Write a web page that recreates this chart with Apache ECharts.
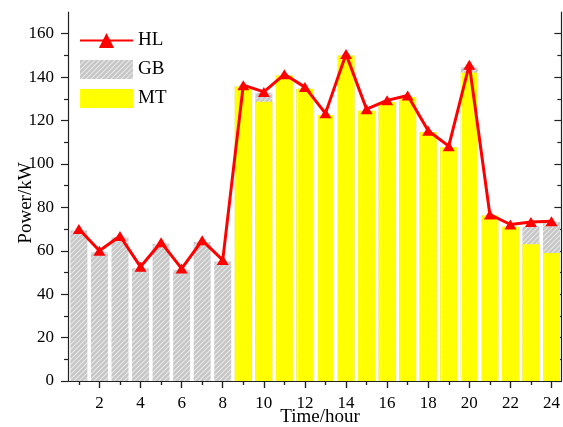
<!DOCTYPE html>
<html><head><meta charset="utf-8">
<script src="https://cdn.jsdelivr.net/npm/echarts@6/dist/echarts.min.js"></script>
<style>html,body{margin:0;padding:0;background:#fff}#c{width:563px;height:427px}</style>
</head><body><div id="c"></div>
<script>
const hours = [1,2,3,4,5,6,7,8,9,10,11,12,13,14,15,16,17,18,19,20,21,22,23,24];
const HL = [70,60,66.8,52.6,63.9,51.8,64.8,55.7,136.3,133.2,141.3,135.4,123.3,150.6,125.2,129.3,131.5,115.3,108.2,145.7,76.7,72.1,73.2,73.6];
const MT = [0,0,0,0,0,0,0,0,135.7,128.6,140.8,134.6,122.5,150,124.5,128.5,130.8,114.6,107.7,142,76.2,71.1,63,59];
const GB = [69.3,59.3,66.2,52,63.2,51.2,64,55,0,4.2,0,0,0,0,0,0,0,0,0,2.6,0,0,8.1,14.3];
const xMajorTicks = [2,4,6,8,10,12,14,16,18,20,22,24];
const xMinorTicks = [1,3,5,7,9,11,13,15,17,19,21,23];
const yMajorTicks = [0,20,40,60,80,100,120,140,160];
const yMinorTicks = [10,30,50,70,90,110,130,150];

const FONT = 'Liberation Serif';
function mtPattern(){
  const c=document.createElement('canvas'); c.width=4; c.height=4;
  const g=c.getContext('2d'); g.fillStyle='#ffff00'; g.fillRect(0,0,4,4);
  g.fillStyle='#ffffb8'; g.fillRect(1,0,1,4); return c;
}
function gbPattern(){
  const s=5; const c=document.createElement('canvas'); c.width=s; c.height=s;
  const g=c.getContext('2d'); g.fillStyle='#c6c6c6'; g.fillRect(0,0,s,s);
  g.strokeStyle='#e8e8e8'; g.lineWidth=1.1;
  g.beginPath(); g.moveTo(-1,s+1); g.lineTo(s+1,-1);
  g.moveTo(-1,1); g.lineTo(1,-1); g.moveTo(s-1,s+1); g.lineTo(s+1,s-1); g.stroke();
  return c;
}
const mtColor={image:mtPattern(),repeat:'repeat'};
const gbColor={image:gbPattern(),repeat:'repeat'};
const XMIN=0.47, XMAX=24.48, YMIN=0, YMAX=170;
const lineC='#222';
function xa(pos, ticks, len, inside, showLine, showLabel){
  return {type:'value', gridIndex:0, position:pos, min:XMIN, max:XMAX,
    axisLine:{show:showLine, lineStyle:{color:lineC,width:1.2}},
    axisTick:{show:true, inside:inside, length:len, customValues:ticks, lineStyle:{color:lineC,width:1.2}},
    axisLabel:{show:showLabel, customValues:ticks, margin:14, fontFamily:FONT, fontSize:17, color:'#000'},
    splitLine:{show:false}};
}
function ya(pos, ticks, len, inside, showLine, showLabel){
  return {type:'value', gridIndex:0, position:pos, min:YMIN, max:YMAX,
    axisLine:{show:showLine, lineStyle:{color:lineC,width:1.2}},
    axisTick:{show:true, inside:inside, length:len, customValues:ticks, lineStyle:{color:lineC,width:1.2}},
    axisLabel:{show:showLabel, customValues:ticks, margin:14, fontFamily:FONT, fontSize:17, color:'#000'},
    splitLine:{show:false}};
}
// GB sits on top of MT: draw the GB bar from 0 to MT+GB, then MT over it.
const gbTop = hours.map((h,i)=>MT[i]+GB[i]);
const chart=echarts.init(document.getElementById('c'),null,{renderer:'canvas'});
chart.setOption({
  backgroundColor:'#fff',
  animation:false,
  grid:{left:68,right:1,top:12,bottom:46},
  xAxis:[
    xa('bottom', xMajorTicks, 7, false, true, true),
    xa('bottom', xMinorTicks, 4, false, false, false),
    xa('top', xMajorTicks, 7, true, true, false),
    xa('top', xMinorTicks, 4, true, false, false)
  ],
  yAxis:[
    ya('left', yMajorTicks, 7, false, true, true),
    ya('left', yMinorTicks, 4, false, false, false),
    ya('right', yMajorTicks, 7, true, true, false),
    ya('right', yMinorTicks, 4, true, false, false)
  ],
  legend:{orient:'vertical', left:74, top:26, itemWidth:53, itemHeight:19, itemGap:10,
    textStyle:{fontFamily:FONT, fontSize:19, color:'#000'},
    data:[{name:'HL'},{name:'GB',icon:'rect'},{name:'MT',icon:'rect'}]},
  graphic:[
    {type:'text', x:320, y:417, style:{text:'Time/hour', font:'19px "Liberation Serif"', fill:'#000', align:'center', verticalAlign:'middle'}},
    {type:'text', x:26, y:203, rotation:Math.PI/2, style:{text:'Power/kW', font:'19px "Liberation Serif"', fill:'#000', align:'center', verticalAlign:'middle'}}
  ],
  series:[
    {name:'GB', type:'bar', barWidth:17, barGap:'-100%', xAxisIndex:0, yAxisIndex:0,
      itemStyle:{color:gbColor}, data:hours.map((h,i)=>[h,gbTop[i]])},
    {name:'MT', type:'bar', barWidth:17, barGap:'-100%', xAxisIndex:0, yAxisIndex:0,
      itemStyle:{color:mtColor}, data:hours.map((h,i)=>[h,MT[i]])},
    {name:'HL', type:'line', xAxisIndex:0, yAxisIndex:0, z:5,
      symbol:'triangle', symbolSize:[12,10], showSymbol:true,
      itemStyle:{color:'#ff0000'}, lineStyle:{color:'#ff0000', width:3},
      data:hours.map((h,i)=>[h,HL[i]])}
  ]
});
</script></body></html>
